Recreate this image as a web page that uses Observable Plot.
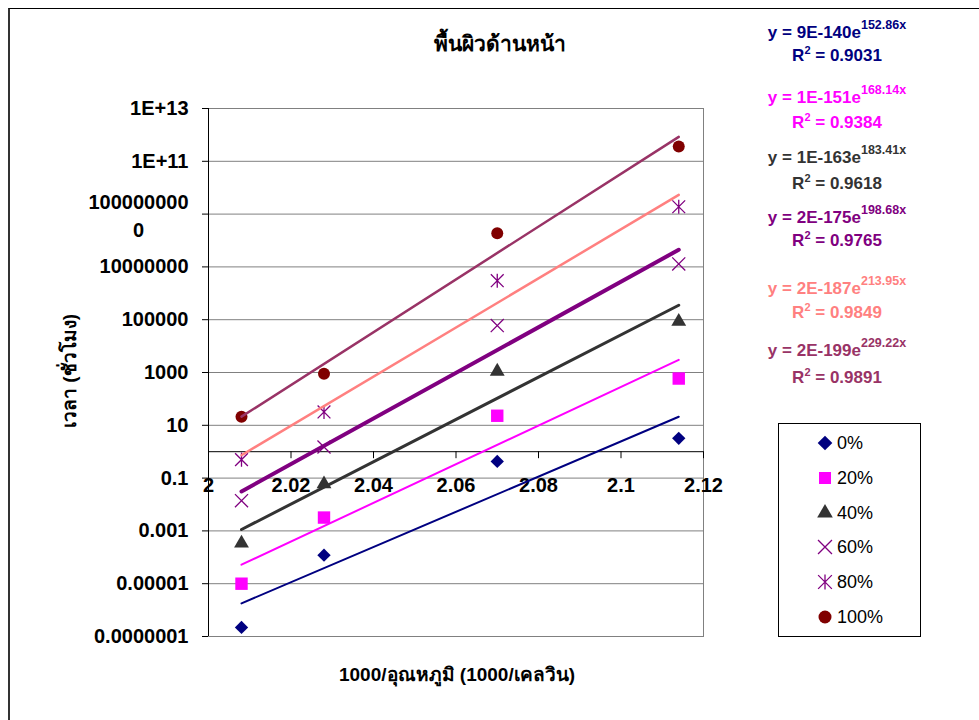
<!DOCTYPE html>
<html>
<head>
<meta charset="utf-8">
<script src="https://cdn.jsdelivr.net/npm/d3@7"></script>
<script src="https://cdn.jsdelivr.net/npm/@observablehq/plot@0.6"></script>
<style>
  body { margin: 0; background: #fff; }
  #wrap { position: relative; width: 979px; height: 720px; overflow: hidden;
          font-family: 'Liberation Sans', Arial, 'Noto Sans', sans-serif; color: #000; }
  #frame { position: absolute; left: 8px; top: 8px; width: 2000px; height: 2000px;
           border-left: 2px solid #333; border-top: 1px solid #000; box-sizing: border-box; }
  #chart { position: absolute; left: 0; top: 0; }
  .c { position: absolute; transform: translate(-50%, -50%); white-space: nowrap; line-height: 1; }
  .title { font-weight: bold; font-size: 21px; }
  .axlabel { font-weight: bold; font-size: 19px; }
  .eq { font-weight: bold; font-size: 17px; }
  .eq sup { font-size: 12.5px; vertical-align: 0; position: relative; top: -9px; }
  .eq sup.r { font-size: 11px; top: -7px; }
  #legend { position: absolute; left: 778px; top: 423px; width: 143px; height: 214px;
            border: 1px solid #000; box-sizing: border-box; }
  .legtext { position: absolute; font-size: 18px; transform: translateY(-50%); line-height: 1; white-space: nowrap; }
  .legsym { position: absolute; }
</style>
</head>
<body>
<div id="wrap">
  <div id="frame"></div>
  <div id="chart"></div>
  <div id="legend"></div>
</div>
<script>
// ---------------- data ----------------
const xValues = [2.008, 2.028, 2.070, 2.114];          // 1000/T (1000/K)
const seriesNames = ["0%", "20%", "40%", "60%", "80%", "100%"];
const hours0   = [2.2e-7, 1.2e-4, 0.43, 3.2];
const hours20  = [1e-5, 3.2e-3, 23, 590];
const hours40  = [3.4e-4, 0.06, 1100, 8.5e4];
const hours60  = [0.014, 1.5, 6e4, 1.3e7];
const hours80  = [0.5, 32, 3e6, 1.9e9];
const hours100 = [21, 890, 1.9e8, 3.6e11];

const yTicks = [1e13, 1e11, 1e9, 1e7, 1e5, 1e3, 10, 0.1, 1e-3, 1e-5, 1e-7];
const yTickLabels = ["1E+13", "1E+11", "1000000000", "10000000", "100000", "1000", "10",
                     "0.1", "0.001", "0.00001", "0.0000001"];
const xTicks = [2, 2.02, 2.04, 2.06, 2.08, 2.1, 2.12];
const xTickLabels = ["2", "2.02", "2.04", "2.06", "2.08", "2.1", "2.12"];

const eqCoef = ["9E-140", "1E-151", "1E-163", "2E-175", "2E-187", "2E-199"];
const eqExp  = ["152.86x", "168.14x", "183.41x", "198.68x", "213.95x", "229.22x"];
const eqR2   = ["0.9031", "0.9384", "0.9618", "0.9765", "0.9849", "0.9891"];

const titleText = "พื้นผิวด้านหน้า";
const xLabelText = "1000/อุณหภูมิ (1000/เคลวิน)";
const yLabelText = "เวลา (ชั่วโมง)";

// ---------------- styles ----------------
const asterisk = {
  draw(ctx, size) {
    const h = Math.sqrt(size / Math.PI) * 0.8;
    ctx.moveTo(-h, -h); ctx.lineTo(h, h);
    ctx.moveTo(-h, h); ctx.lineTo(h, -h);
    ctx.moveTo(0, -h * 1.1); ctx.lineTo(0, h * 1.1);
  }
};
const markerStyle = [
  {symbol: "diamond2", fill: "#000080", r: 6},
  {symbol: "square", fill: "#FF00FF", r: 7},
  {symbol: "triangle", fill: "#333333", r: 5.5},
  {symbol: "times", fill: "none", stroke: "#800080", r: 6, strokeWidth: 1.3},
  {symbol: asterisk, fill: "none", stroke: "#800080", r: 8, strokeWidth: 1.3},
  {symbol: "circle", fill: "#800000", r: 6}
];
const trendStyle = [
  {stroke: "#000080", strokeWidth: 2},
  {stroke: "#FF00FF", strokeWidth: 2},
  {stroke: "#333333", strokeWidth: 3},
  {stroke: "#800080", strokeWidth: 4},
  {stroke: "#FF8080", strokeWidth: 2.5},
  {stroke: "#993366", strokeWidth: 2.5}
];
const eqColors = ["#000080", "#FF00FF", "#333333", "#800080", "#FF8080", "#993366"];

// ---------------- build ----------------
const allHours = [hours0, hours20, hours40, hours60, hours80, hours100];
const yLabel = new Map(yTicks.map((t, i) => [t, yTickLabels[i]]));
const xLabel = new Map(xTicks.map((t, i) => [t, xTickLabels[i]]));

function expFit(xs, ys) {
  const ly = ys.map(Math.log10);
  const mx = d3.mean(xs), my = d3.mean(ly);
  let sxy = 0, sxx = 0;
  xs.forEach((x, i) => { sxy += (x - mx) * (ly[i] - my); sxx += (x - mx) ** 2; });
  const b = sxy / sxx, a = my - b * mx;
  const [x0, x1] = d3.extent(xs);
  return [{x: x0, y: 10 ** (a + b * x0)}, {x: x1, y: 10 ** (a + b * x1)}];
}

const W = 979, H = 720;
const mL = 208, mR = 276, mT = 108, mB = 84;
const yDomain = [1e-7, 1e13];
const plotH = H - mT - mB;
const axisOffset = plotH * (Math.log10(1) - Math.log10(yDomain[0])) /
                   (Math.log10(yDomain[1]) - Math.log10(yDomain[0]));

const lineMarks = allHours.map((hs, i) =>
  Plot.line(expFit(xValues, hs), {x: "x", y: "y", ...trendStyle[i]}));
const dotMarks = allHours.map((hs, i) =>
  Plot.dot(xValues.map((x, j) => ({x, y: hs[j]})), {x: "x", y: "y", ...markerStyle[i]}));

const chart = Plot.plot({
  width: W, height: H,
  marginLeft: mL, marginRight: mR, marginTop: mT, marginBottom: mB,
  style: {fontFamily: "'Liberation Sans', Arial, 'Noto Sans', sans-serif", background: "transparent", color: "#000"},
  x: {domain: [2, 2.12]},
  y: {type: "log", domain: yDomain},
  marks: [
    Plot.gridY(yTicks, {stroke: "#808080", strokeOpacity: 1}),
    Plot.frame({stroke: "#808080"}),
    Plot.ruleY([1], {stroke: "#000"}),
    Plot.ruleX([2], {stroke: "#000"}),
    Plot.axisY(yTicks, {tickSize: 6, tickPadding: 14, fontSize: 20, fontWeight: "bold", label: null,
      tickFormat: d => d === 1e9 ? "" : yLabel.get(d)}),
    Plot.text([1e9], {y: d => d, frameAnchor: "left", dx: -70, textAnchor: "middle", lineAnchor: "middle",
      lineHeight: 1.4, fontSize: 20, fontWeight: "bold",
      text: d => { const s = yLabel.get(d); return s.slice(0, -1) + "\n" + s.slice(-1); }}),
    Plot.axisX(xTicks, {anchor: "bottom", dy: -axisOffset, tickSize: 7, tickPadding: 19, fontSize: 20,
      fontWeight: "bold", label: null, tickFormat: d => xLabel.get(d)}),
    ...dotMarks,
    ...lineMarks
  ]
});
document.getElementById("chart").appendChild(chart);

const wrap = d3.select("#wrap");
function label(text, x, y, cls, extra) {
  const el = wrap.append("div").attr("class", "c " + cls)
    .style("left", x + "px").style("top", y + "px").text(text);
  if (extra) el.style("transform", extra);
  return el;
}
label(titleText, 500, 43, "title");
label(xLabelText, 457, 674, "axlabel");
label(yLabelText, 69, 371, "axlabel", "translate(-50%,-50%) rotate(-90deg)");

// trendline equations
const eqY = [32, 97, 157, 217, 288, 350];
const r2Y = [55, 122, 183, 240, 312, 377];
eqCoef.forEach((c, i) => {
  wrap.append("div").attr("class", "c eq").style("left", "837px").style("top", eqY[i] + "px")
    .style("color", eqColors[i]).html(`y = ${c}e<sup>${eqExp[i]}</sup>`);
  wrap.append("div").attr("class", "c eq").style("left", "837px").style("top", r2Y[i] + "px")
    .style("color", eqColors[i]).html(`R<sup class="r">2</sup> = ${eqR2[i]}`);
});

// legend
const legR = [6.6, 6.8, 5.8, 6.4, 8.6, 6.5];
seriesNames.forEach((name, i) => {
  const cy = 443 + i * 34.8;
  const m = markerStyle[i];
  const type = typeof m.symbol === "string"
    ? {diamond2: d3.symbolDiamond2, square: d3.symbolSquare, triangle: d3.symbolTriangle,
       times: d3.symbolTimes, circle: d3.symbolCircle}[m.symbol]
    : m.symbol;
  const svg = wrap.append("svg").attr("class", "legsym").attr("width", 24).attr("height", 24)
    .style("left", (825 - 12) + "px").style("top", (cy - 12) + "px");
  svg.append("path").attr("transform", "translate(12,12)")
    .attr("d", d3.symbol(type, Math.PI * legR[i] * legR[i])())
    .attr("fill", m.fill || "none").attr("stroke", m.stroke || "none")
    .attr("stroke-width", m.strokeWidth || 0);
  wrap.append("div").attr("class", "legtext").style("left", "837px").style("top", cy + "px").text(name);
});
</script>
</body>
</html>
